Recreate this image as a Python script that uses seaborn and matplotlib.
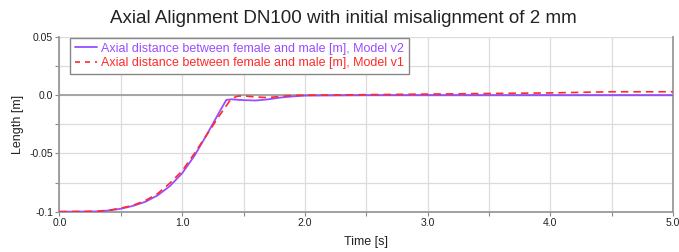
import numpy as np
import pandas as pd
import seaborn as sns
import matplotlib
matplotlib.use("Agg")
import matplotlib.pyplot as plt
from matplotlib.lines import Line2D

title = "Axial Alignment DN100 with initial misalignment of 2 mm"
x_label = "Time [s]"
y_label = "Length [m]"
label_v2 = "Axial distance between female and male [m], Model v2"
label_v1 = "Axial distance between female and male [m], Model v1"

t_v2 = [0.0, 0.3, 0.4, 0.5, 0.6, 0.7, 0.8, 0.9, 1.0, 1.1, 1.2, 1.3, 1.36, 1.4, 1.5, 1.6, 1.7, 1.8, 1.9, 2.0, 2.5, 3.0, 4.0, 5.0]
v_v2 = [-0.1, -0.0998, -0.099, -0.0975, -0.095, -0.0915, -0.086, -0.078, -0.067, -0.052, -0.034, -0.015, -0.004, -0.0035, -0.0042, -0.0045, -0.0035, -0.002, -0.001, -0.0003, 0.0, 0.0, 0.0, 0.0]

t_v1 = [0.0, 0.3, 0.4, 0.5, 0.6, 0.7, 0.8, 0.9, 1.0, 1.1, 1.2, 1.3, 1.36, 1.4, 1.45, 1.5, 1.6, 1.7, 1.8, 1.9, 2.0, 2.5, 3.0, 3.5, 4.0, 4.5, 5.0]
v_v1 = [-0.1, -0.0997, -0.0988, -0.097, -0.0945, -0.0905, -0.0845, -0.0755, -0.065, -0.050, -0.034, -0.018, -0.009, -0.003, -0.0008, -0.0005, -0.0015, -0.002, -0.001, -0.0002, 0.0, 0.0005, 0.001, 0.0015, 0.002, 0.003, 0.003]

x_ticks = [0.0, 1.0, 2.0, 3.0, 4.0, 5.0]
x_ticklabels = ["0.0", "1.0", "2.0", "3.0", "4.0", "5.0"]
y_ticks = [-0.1, -0.05, 0.0, 0.05]
y_ticklabels = ["-0.1", "-0.05", "0.0", "0.05"]

purple = "#9a4dff"
red = "#ff2a2a"

sns.set_theme(style="white")
plt.rcParams["font.family"] = ["Liberation Sans", "DejaVu Sans"]

fig = plt.figure(figsize=(6.79, 2.52), dpi=100)
ax = fig.add_axes([0.0876, 0.160, 0.9034, 0.693])

df2 = pd.DataFrame({"t": t_v2, "v": v_v2})
df1 = pd.DataFrame({"t": t_v1, "v": v_v1})

ax.set_xlim(0, 5)
ax.set_ylim(-0.1, 0.05)

# grid
ax.set_xticks(np.arange(0, 5.01, 0.5), minor=True)
ax.set_yticks(np.arange(-0.1, 0.0501, 0.025), minor=True)
ax.grid(True, which="both", color="#dcdcdc", linewidth=0.9)
ax.set_axisbelow(True)
ax.axhline(0.0, color="#a0a0a0", linewidth=1.3, zorder=1)

sns.lineplot(data=df2, x="t", y="v", ax=ax, color=purple, linewidth=1.3, zorder=3)
sns.lineplot(data=df1, x="t", y="v", ax=ax, color=red, linewidth=1.2, dashes=False, zorder=4)
ax.lines[-1].set_dashes((4.5, 3))

ax.set_xticks(x_ticks)
ax.set_xticklabels(x_ticklabels)
ax.set_yticks(y_ticks)
ax.set_yticklabels(y_ticklabels)
ax.tick_params(axis="both", which="both", labelsize=7.5, colors="#333333",
               length=3, width=0.8, direction="out", pad=1.5)
ax.tick_params(axis="both", which="both", bottom=True, left=True, color="#888888")
for lab in ax.get_xticklabels() + ax.get_yticklabels():
    lab.set_color("#222222")

for s in ["left", "bottom", "right"]:
    ax.spines[s].set_color("#999999")
    ax.spines[s].set_linewidth(1.3)
ax.spines["top"].set_visible(False)

ax.set_xlabel(x_label, fontsize=9, color="#222222", labelpad=6)
ax.set_ylabel(y_label, fontsize=9, color="#222222", labelpad=4)
fig.suptitle(title, fontsize=13.5, color="#222222", x=0.505, y=0.96)

handles = [Line2D([], [], color=purple, linewidth=1.3),
           Line2D([], [], color=red, linewidth=1.2, dashes=(3, 3))]
leg = ax.legend(handles, [label_v2, label_v1], loc="upper left",
                bbox_to_anchor=(0.017, 0.997), borderaxespad=0, fontsize=9,
                frameon=True, fancybox=False, handlelength=1.8, handletextpad=0.3,
                labelspacing=0.2, borderpad=0.4)
leg.get_frame().set_edgecolor("#888888")
leg.get_frame().set_linewidth(1.0)
leg.get_frame().set_facecolor("white")
leg.get_frame().set_alpha(1)
for txt, c in zip(leg.get_texts(), [purple, red]):
    txt.set_color(c)

fig.savefig("out.png", dpi=100)
